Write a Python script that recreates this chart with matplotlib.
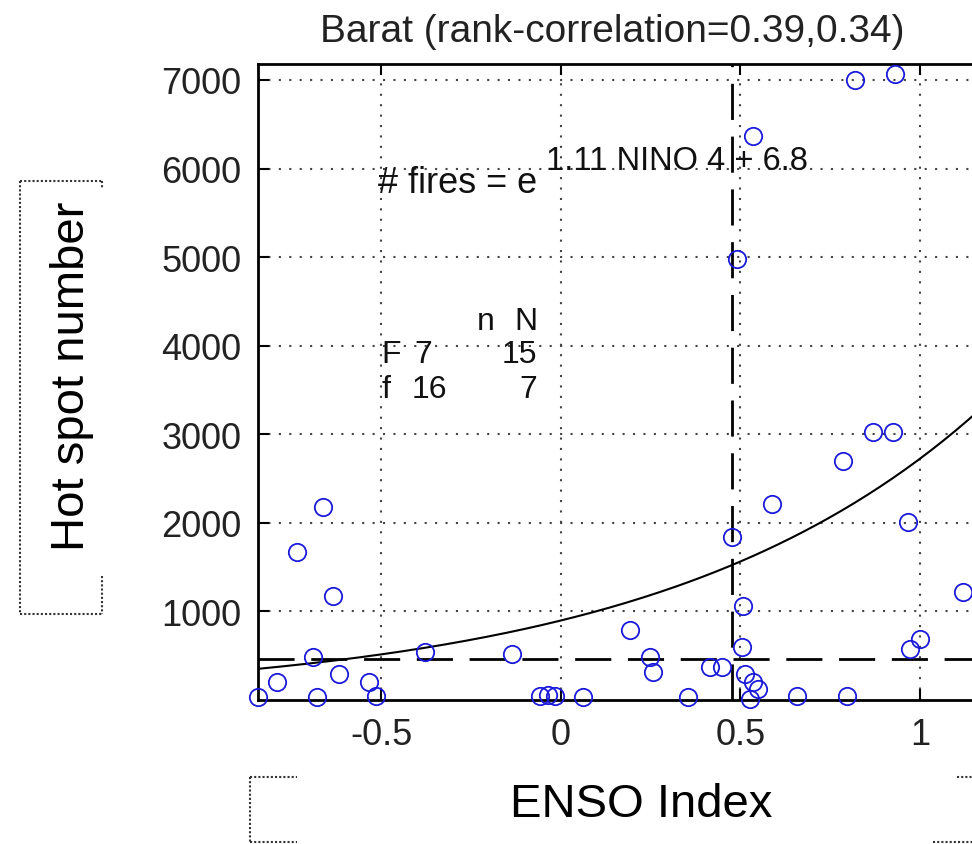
import numpy as np
import matplotlib
matplotlib.use('Agg')
import matplotlib.pyplot as plt
from matplotlib import lines

plt.rcParams['font.family'] = ['Liberation Sans', 'DejaVu Sans']

W, H = 972, 845

# ENSO index (NINO 4) vs hot spot counts
enso = [-0.844, -0.791, -0.735, -0.691, -0.680, -0.663, -0.635, -0.618, -0.535,
        -0.515, -0.379, -0.136, -0.058, -0.035, -0.017, 0.061, 0.192, 0.248,
        0.256, 0.354, 0.415, 0.448, 0.476, 0.490, 0.504, 0.507, 0.513, 0.526,
        0.535, 0.549, 0.535, 0.588, 0.657, 0.786, 0.797, 0.819, 0.869, 0.925,
        0.930, 0.967, 0.972, 1.000, 1.120]
hotspots = [34, 203, 1670, 485, 34, 2178, 1174, 293, 203,
            45, 542, 519, 45, 60, 45, 34, 790, 485,
            316, 34, 372, 372, 1840, 4977, 598, 1061, 293, 11,
            203, 124, 6366, 2212, 45, 2697, 45, 7000, 3025, 3025,
            7065, 2009, 575, 688, 1219]

fit_a, fit_b = 1.11, 6.8
enso_split = 0.476
fire_split = 468

xticks = [-0.5, 0, 0.5, 1]
yticks = [1000, 2000, 3000, 4000, 5000, 6000, 7000]

def fx(px): return px / W
def fy(py): return 1 - py / H

fig = plt.figure(figsize=(W / 100, H / 100), dpi=100)
ax = fig.add_axes([fx(258), fy(701), (1099.5 - 258) / W, (701 - 65) / H])
ax.set_xlim(-0.844, 1.5)
ax.set_ylim(0, 7180)

ax.grid(True, color='#444444', linestyle=(0, (1, 4)), linewidth=1.5)
ax.axvline(1.5, color='#444444', linestyle=(0, (1, 4)), linewidth=1.5, zorder=0)
ax.set_axisbelow(True)

xs = np.linspace(-0.844, 1.5, 200)
ax.plot(xs, np.exp(fit_a * xs + fit_b), color='black', linewidth=1.5, zorder=3)
ax.axhline(fire_split, color='black', linestyle=(0, (13, 6)), linewidth=2, zorder=3)
ax.axvline(enso_split, color='black', linestyle=(0, (13, 6)), linewidth=2, zorder=3)

ax.plot(enso, hotspots, 'o', markerfacecolor='none', markeredgecolor='#1a1ad9',
        markersize=12.5, markeredgewidth=1.3, zorder=4, clip_on=False)

ax.set_xticks(xticks)
ax.set_xticklabels(['-0.5', '0', '0.5', '1'])
ax.set_yticks(yticks)
ax.tick_params(direction='in', length=8, width=1.5, top=True, right=True,
               labelsize=26, labelcolor='#222222', pad=12)
for s in ax.spines.values():
    s.set_linewidth(2)

fig.text(fx(612), fy(42), 'Barat (rank-correlation=0.39,0.34)', fontsize=28,
         ha='center', va='baseline', color='#222222')

# fitted equation
fig.text(fx(378), fy(193), '# fires = e', fontsize=26, va='baseline', color='#111111')
fig.text(fx(546), fy(170), '1.11 NINO 4 + 6.8', fontsize=23.5, va='baseline', color='#111111')

# contingency table (text, x, y, ha)
tbl = [('n', 495, 330, 'right'), ('N', 537, 330, 'right'),
       ('F', 381, 363, 'left'), ('7', 432, 363, 'right'), ('15', 537, 363, 'right'),
       ('f', 381, 398, 'left'), ('16', 447, 398, 'right'), ('7', 537, 398, 'right')]
for s, px, py, ha in tbl:
    fig.text(fx(px), fy(py), s, fontsize=23, ha=ha, va='baseline', color='#111111')

fig.text(fx(72), fy(376), 'Hot spot number', fontsize=34, rotation=90,
         ha='center', va='center')
fig.text(fx(641), fy(805), 'ENSO Index', fontsize=34, ha='center', va='center')

def seg(x0, y0, x1, y1):
    fig.add_artist(lines.Line2D([fx(x0), fx(x1)], [fy(y0), fy(y1)],
                                transform=fig.transFigure, color='#333333',
                                linestyle=(0, (1, 1)), linewidth=1.5))

# label boxes
seg(20, 182, 20, 615); seg(20, 182, 102, 182); seg(20, 615, 102, 615)
seg(102, 182, 102, 190); seg(102, 577, 102, 615)
seg(250, 778, 250, 843); seg(250, 778, 297, 778); seg(250, 843, 297, 843)
seg(957, 778, 972, 778); seg(933, 843, 972, 843)

fig.savefig('out.png', dpi=100)
